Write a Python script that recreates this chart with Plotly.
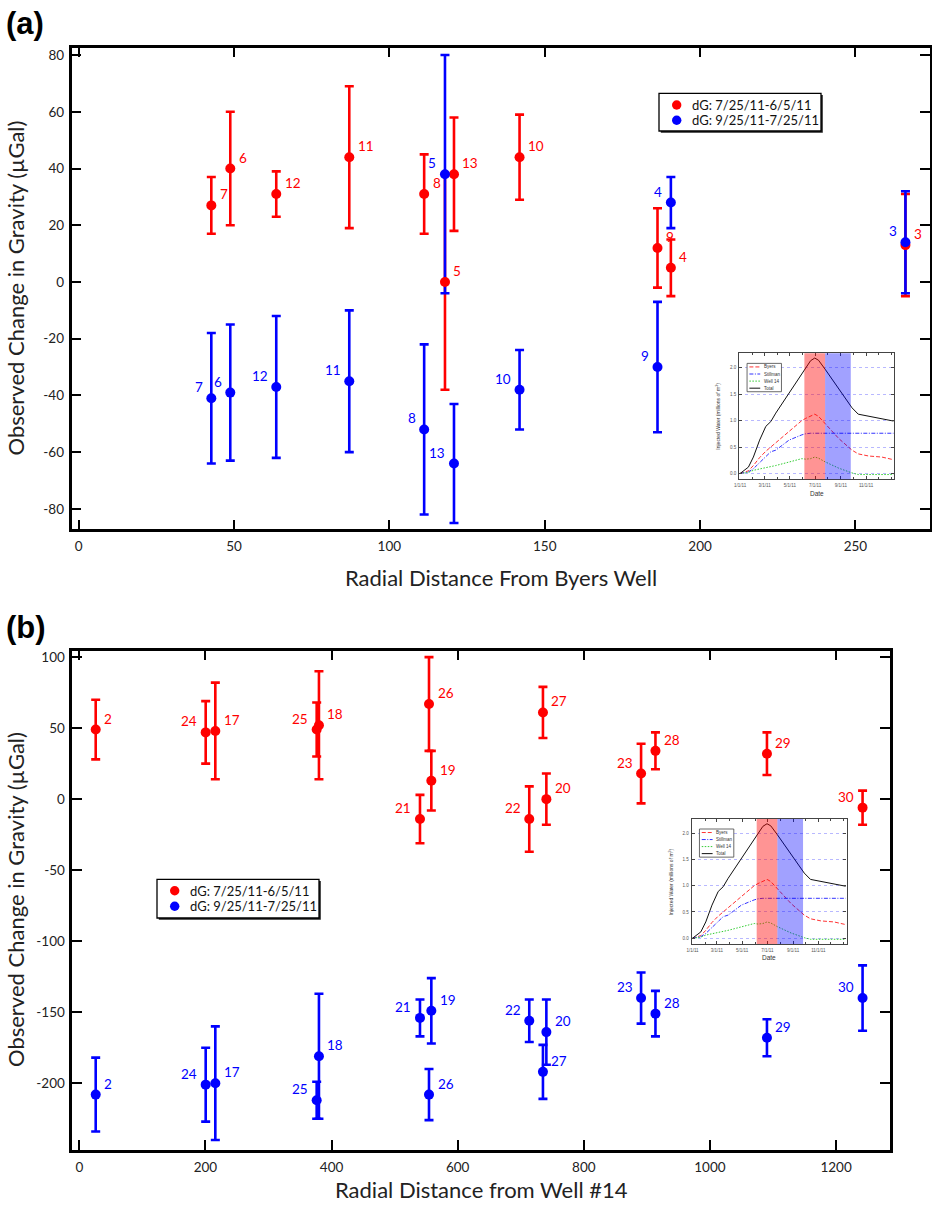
import plotly.graph_objects as go

W, H = 932, 1205
FONT = "Lato"
RED = "#ff0000"
BLUE = "#0000ff"

# ---------------- Panel (a) data ----------------
stations_a = ["7", "6", "12", "11", "8", "5", "13", "10", "9", "4", "3"]
dist_a = [42.7, 48.8, 63.6, 87.1, 111.2, 117.9, 120.8, 141.9, 186.3, 190.6, 266.1]
dg1_a = [27, 40, 31, 44, 31, 0, 38, 44, 12, 5, 13]
err1_a = [10, 20, 8, 25, 14, 38, 20, 15, 14, 10, 18]
dg2_a = [-41, -39, -37, -35, -52, 38, -64, -38, -30, 28, 14]
err2_a = [23, 24, 25, 25, 30, 42, 21, 14, 23, 9, 18]
side1_a = ["right"] * 11
side2_a = ["left"] * 11

# ---------------- Panel (b) data ----------------
stations_b = ["2", "24", "17", "25", "18", "21", "26", "19", "22", "27", "20", "23", "28", "29", "30"]
dist_b = [26, 200.4, 215.7, 376.4, 380, 540.2, 554.5, 558.2, 713.5, 735.2, 740.6, 890.8, 913.6, 1090.4, 1242]
dg1_b = [49, 47, 48, 49, 52, -14, 67, 13, -14, 61, 0, 18, 34, 32, -6]
err1_b = [21, 22, 34, 19, 38, 17, 33, 21, 23, 18, 18, 21, 13, 15, 12]
dg2_b = [-208, -201, -200, -212, -181, -154, -208, -149, -156, -192, -164, -140, -151, -168, -140]
err2_b = [26, 26, 40, 13, 44, 13, 18, 23, 15, 19, 23, 18, 16, 13, 23]
R, L = "right", "left"
side1_b = [R, L, R, L, R, L, R, R, L, R, R, L, R, R, L]
side2_b = [R, L, R, L, R, L, R, R, L, R, R, L, R, R, L]

series_names = ["dG: 7/25/11-6/5/11", "dG: 9/25/11-7/25/11"]
series_colors = [RED, BLUE]

# ticks
xt_a = [0, 50, 100, 150, 200, 250]
yt_a = [-80, -60, -40, -20, 0, 20, 40, 60, 80]
xt_b = [0, 200, 400, 600, 800, 1000, 1200]
yt_b = [-200, -150, -100, -50, 0, 50, 100]

# ---------------- Inset data (injected water, millions m^3) ----------------
inset_dates = ["2011-01-01", "2011-01-21", "2011-02-02", "2011-02-17", "2011-03-04", "2011-03-16",
               "2011-03-28", "2011-04-29", "2011-05-30", "2011-06-08", "2011-06-20", "2011-06-30",
               "2011-07-09", "2011-07-25", "2011-08-27", "2011-09-28", "2011-10-13", "2011-11-07",
               "2011-12-09", "2012-01-06"]
byers = [0, 0.05, 0.15, 0.30, 0.42, 0.50, 0.57, 0.79, 1.00, 1.04, 1.09, 1.12, 1.08, 0.94, 0.66, 0.44,
         0.37, 0.33, 0.31, 0.26]
stillman = [0, 0.03, 0.09, 0.20, 0.32, 0.41, 0.44, 0.63, 0.73, 0.75, 0.76, 0.76, 0.76, 0.76, 0.76, 0.76,
            0.76, 0.76, 0.76, 0.76]
well14 = [0, 0.02, 0.06, 0.08, 0.10, 0.13, 0.15, 0.22, 0.28, 0.27, 0.28, 0.31, 0.29, 0.22, 0.10, 0.01,
          -0.02, -0.02, -0.02, -0.02]
total = [0, 0.12, 0.31, 0.63, 0.89, 0.98, 1.14, 1.52, 1.87, 1.97, 2.13, 2.18, 2.14, 1.97, 1.59, 1.24,
         1.12, 1.08, 1.04, 0.99]
inset_xt = ["2011-01-01", "2011-03-01", "2011-05-01", "2011-07-01", "2011-09-01", "2011-11-01"]
inset_xl = ["1/1/11", "3/1/11", "5/1/11", "7/1/11", "9/1/11", "11/1/11"]
inset_yt = [0, 0.5, 1.0, 1.5, 2.0]
period1 = ("2011-06-05", "2011-07-25")
period2 = ("2011-07-25", "2011-09-25")
inset_series = [("Byers", byers, "#ff3333", "4px,2px"),
                ("Stillman", stillman, "#3333ff", "4px,1.5px,1px,1.5px"),
                ("Well 14", well14, "#33cc33", "1.5px,1.5px"),
                ("Total", total, "#111111", "solid")]


def pxx(x):
    return x / W


def pxy(y):
    return 1 - y / H


fig = go.Figure()
shapes = []
annotations = []


def add_panel(xa, ya, dist, v1, e1, v2, e2, labels, side1, side2):
    ax = dict(xaxis=xa, yaxis=ya)
    # error bars (red under blue)
    for v, e, c in ((v1, e1, RED), (v2, e2, BLUE)):
        fig.add_trace(go.Scatter(x=dist, y=v, mode="markers",
                                 marker=dict(size=10, opacity=0, color=c),
                                 error_y=dict(type="data", array=e, visible=True, color=c,
                                              thickness=2.6, width=4.5),
                                 showlegend=False, hoverinfo="skip", **ax))
    # markers
    for v, c, nm in ((v1, RED, series_names[0]), (v2, BLUE, series_names[1])):
        fig.add_trace(go.Scatter(x=dist, y=v, mode="markers", name=nm, showlegend=False,
                                 marker=dict(size=10, color=c), **ax))
    # station labels
    for v, c, sides in ((v1, RED, side1), (v2, BLUE, side2)):
        for xv, yv, lab, sd in zip(dist, v, labels, sides):
            annotations.append(dict(xref=xa, yref=ya, x=xv, y=yv, text=lab, showarrow=False,
                                    xanchor="left" if sd == "right" else "right",
                                    yanchor="middle", xshift=6.5 if sd == "right" else -6.5,
                                    yshift=11, font=dict(family=FONT, size=13.5, color=c)))


def add_legend(x0, y0, x1, y1, mx, tx, rows):
    # shadow, box
    shapes.append(dict(type="rect", xref="paper", yref="paper", x0=pxx(x0 + 1.8), x1=pxx(x1 + 1.8),
                       y0=pxy(y1 + 1.8), y1=pxy(y0 + 1.8), fillcolor="#222", line_width=0,
                       layer="above"))
    shapes.append(dict(type="rect", xref="paper", yref="paper", x0=pxx(x0), x1=pxx(x1),
                       y0=pxy(y1), y1=pxy(y0), fillcolor="white",
                       line=dict(color="black", width=1.3), layer="above"))
    for ry, nm, c in zip(rows, series_names, series_colors):
        shapes.append(dict(type="circle", xref="paper", yref="paper", xsizemode="pixel",
                           ysizemode="pixel", xanchor=pxx(mx), yanchor=pxy(ry),
                           x0=-4.7, x1=4.7, y0=-4.7, y1=4.7, fillcolor=c, line_width=0,
                           layer="above"))
        annotations.append(dict(xref="paper", yref="paper", x=pxx(tx), y=pxy(ry), text=nm,
                                showarrow=False, xanchor="left", yanchor="middle", borderpad=0,
                                font=dict(family=FONT, size=13, color="#111")))


add_panel("x", "y", dist_a, dg1_a, err1_a, dg2_a, err2_a, stations_a, side1_a, side2_a)
add_panel("x3", "y3", dist_b, dg1_b, err1_b, dg2_b, err2_b, stations_b, side1_b, side2_b)
add_legend(659, 93.3, 821, 131, 676.7, 690.5, [105, 120.3])
add_legend(157, 879.3, 319, 918, 174.7, 188.5, [890.7, 906.3])


def add_inset(xa, ya):
    for nm, vals, c, dash in inset_series:
        fig.add_trace(go.Scatter(x=inset_dates, y=vals, mode="lines", name=nm, showlegend=False,
                                 line=dict(color=c, width=1, dash=dash), xaxis=xa, yaxis=ya,
                                 hoverinfo="skip"))
    xd, yd = xa + " domain", ya + " domain"
    shapes.append(dict(type="rect", xref=xa, yref=yd, x0=period1[0], x1=period1[1], y0=0, y1=1,
                       fillcolor="rgba(255,0,0,0.42)", line_width=0, layer="above"))
    shapes.append(dict(type="rect", xref=xa, yref=yd, x0=period2[0], x1=period2[1], y0=0, y1=1,
                       fillcolor="rgba(0,0,255,0.37)", line_width=0, layer="above"))
    # inset legend box
    shapes.append(dict(type="rect", xref=xd, yref=yd, x0=0.05, x1=0.272, y0=0.695, y1=0.92,
                       fillcolor="white", line=dict(color="#444", width=0.8), layer="above"))
    for i, (nm, vals, c, dash) in enumerate(inset_series):
        yc = 0.92 - 0.225 * (i + 0.5) / 4
        shapes.append(dict(type="line", xref=xd, yref=yd, x0=0.065, x1=0.135, y0=yc, y1=yc,
                           line=dict(color=c, width=1, dash=dash), layer="above"))
        annotations.append(dict(xref=xd, yref=yd, x=0.145, y=yc, text=nm, showarrow=False,
                                xanchor="left", yanchor="middle",
                                font=dict(family="Liberation Sans", size=4.5, color="#333")))
    annotations.append(dict(xref=xd, yref=yd, x=-0.135, y=0.5, textangle=-90, showarrow=False,
                            text="Injected Water (millions of m<sup>3</sup>)",
                            xanchor="center", yanchor="middle",
                            font=dict(family="Liberation Sans", size=5, color="#333")))
    annotations.append(dict(xref=xd, yref=yd, x=0.5, y=-0.11, text="Date", showarrow=False,
                            xanchor="center", yanchor="middle",
                            font=dict(family="Liberation Sans", size=6.5, color="#333")))


add_inset("x2", "y2")
add_inset("x4", "y4")

main_axis = dict(showline=True, linecolor="black", linewidth=2.5, mirror="ticks", ticks="inside",
                 ticklen=10, tickwidth=2, tickcolor="black", showgrid=False, zeroline=False,
                 tickfont=dict(family=FONT, size=13.5, color="#222"), automargin=False)
inset_x = dict(type="date", showline=True, linecolor="#444", linewidth=1.2, mirror="ticks",
               ticks="inside", ticklen=3, tickwidth=0.8, tickcolor="#444", showgrid=False,
               zeroline=False, tickvals=inset_xt, ticktext=inset_xl,
               range=["2010-12-30", "2012-01-08"],
               tickfont=dict(family="Liberation Sans", size=4.5, color="#555"),
               minor=dict(ticks="inside", ticklen=2, tickwidth=0.6, tickcolor="#444",
                          dtick="M1", tick0="2011-01-01", showgrid=False),
               automargin=False, ticklabelstandoff=1)
inset_y = dict(showline=True, linecolor="#444", linewidth=1.2, mirror="ticks", ticks="inside",
               ticklen=3, tickwidth=0.8, tickcolor="#444", showgrid=True, gridcolor="#b8b8ff",
               griddash="dot", gridwidth=0.8, zeroline=False, range=[-0.11, 2.27],
               tickvals=inset_yt, ticktext=["%.1f" % v for v in inset_yt],
               tickfont=dict(family="Liberation Sans", size=4.5, color="#555"),
               automargin=False, ticklabelstandoff=1)

annotations += [
    dict(xref="paper", yref="paper", x=pxx(4), y=pxy(23), text="<b>(a)</b>", showarrow=False,
         xanchor="left", yanchor="middle", font=dict(family="Liberation Sans", size=31, color="black")),
    dict(xref="paper", yref="paper", x=pxx(4), y=pxy(627), text="<b>(b)</b>", showarrow=False,
         xanchor="left", yanchor="middle", font=dict(family="Liberation Sans", size=31, color="black")),
    dict(xref="paper", yref="paper", x=pxx(501), y=pxy(577), text="Radial Distance From Byers Well",
         showarrow=False, xanchor="center", yanchor="middle",
         font=dict(family=FONT, size=22, color="#222")),
    dict(xref="paper", yref="paper", x=pxx(481), y=pxy(1204), text="Radial Distance from Well #14",
         showarrow=False, xanchor="center", yanchor="bottom", borderpad=0,
         font=dict(family=FONT, size=22, color="#222")),
    dict(xref="paper", yref="paper", x=pxx(15), y=pxy(288.5), text="Observed Change in Gravity (µGal)",
         showarrow=False, xanchor="center", yanchor="middle", textangle=-90,
         font=dict(family=FONT, size=22, color="#222")),
    dict(xref="paper", yref="paper", x=pxx(15), y=pxy(900), text="Observed Change in Gravity (µGal)",
         showarrow=False, xanchor="center", yanchor="middle", textangle=-90,
         font=dict(family=FONT, size=22, color="#222")),
]

fig.update_layout(
    template="none",
    width=W, height=H, autosize=False,
    margin=dict(l=0, r=0, t=0, b=0),
    paper_bgcolor="white", plot_bgcolor="white",
    showlegend=False,
    xaxis=dict(main_axis, domain=[pxx(71.5), pxx(930)], range=[-2.3, 274], anchor="y",
               tickvals=xt_a, ticktext=[str(v) for v in xt_a], ticklabelstandoff=3),
    yaxis=dict(main_axis, domain=[pxy(529.3), pxy(47.7)], range=[-87.2, 82.6], anchor="x",
               tickvals=yt_a, ticktext=[str(v) for v in yt_a], ticklabelstandoff=2),
    xaxis3=dict(main_axis, domain=[pxx(72.3), pxx(890)], range=[-11.1, 1285.5], anchor="y3",
                tickvals=xt_b, ticktext=[str(v) for v in xt_b], ticklabelstandoff=3),
    yaxis3=dict(main_axis, domain=[pxy(1150), pxy(650.7)], range=[-247, 104.5], anchor="x3",
                tickvals=yt_b, ticktext=[str(v) for v in yt_b], ticklabelstandoff=2),
    xaxis2=dict(inset_x, domain=[pxx(739.3), pxx(894.3)], anchor="y2"),
    yaxis2=dict(inset_y, domain=[pxy(479.3), pxy(353.3)], anchor="x2"),
    xaxis4=dict(inset_x, domain=[pxx(691.7), pxx(846.5)], anchor="y4"),
    yaxis4=dict(inset_y, domain=[pxy(944), pxy(819)], anchor="x4"),
    shapes=shapes,
    annotations=annotations,
)

fig.write_html("out.html", config={"displayModeBar": False},
               post_script="document.body.style.margin='0';document.body.style.overflow='hidden';")
